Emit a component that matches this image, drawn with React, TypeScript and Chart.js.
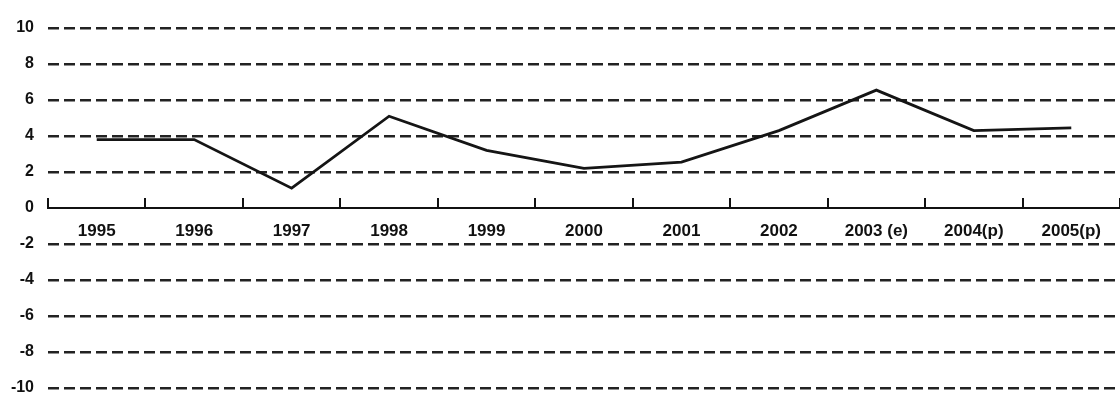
import React, { useEffect, useRef } from "react";
import { Chart, registerables } from "chart.js";

Chart.register(...registerables);

const categories = ["1995", "1996", "1997", "1998", "1999", "2000", "2001", "2002", "2003 (e)", "2004(p)", "2005(p)"];
const growth = [3.8, 3.8, 1.1, 5.1, 3.2, 2.2, 2.55, 4.3, 6.55, 4.3, 4.45];
const yMin = -10;
const yMax = 10;
const yStep = 2;

const upTicks = {
  id: "upTicks",
  afterDraw(chart: any) {
    const x = chart.scales.x;
    const y = chart.scales.y;
    const ctx = chart.ctx;
    const y0 = y.getPixelForValue(0);
    const spacing = x.getPixelForValue(1) - x.getPixelForValue(0);
    ctx.save();
    ctx.strokeStyle = "#111";
    ctx.lineWidth = 2;
    for (let i = 0; i <= categories.length; i++) {
      const px = Math.round(x.getPixelForValue(i) - spacing / 2);
      ctx.beginPath();
      ctx.moveTo(px, y0);
      ctx.lineTo(px, y0 - 10);
      ctx.stroke();
    }
    ctx.restore();
  },
};

export default function App() {
  const ref = useRef<HTMLCanvasElement>(null);
  useEffect(() => {
    document.body.style.margin = "0";
    const chart = new Chart(ref.current!, {
      type: "line",
      data: {
        labels: categories,
        datasets: [
          {
            data: growth,
            borderColor: "#151515",
            borderWidth: 2.8,
            pointRadius: 0,
            tension: 0,
            fill: false,
          },
        ],
      },
      options: {
        animation: false,
        responsive: false,
        layout: { padding: { top: 28, left: 0, right: 0, bottom: 5 } },
        plugins: { legend: { display: false }, tooltip: { enabled: false } },
        scales: {
          x: {
            type: "category",
            offset: true,
            position: { y: 0 } as any,
            grid: { display: false },
            border: { display: true, color: "#111", width: 2 },
            ticks: {
              color: "#111",
              padding: 5,
              maxRotation: 0,
              autoSkip: false,
              font: { family: "Liberation Sans, Arial", size: 17, weight: "bold" },
            },
          },
          y: {
            min: yMin,
            max: yMax,
            afterFit: (s: any) => {
              s.width = 48;
              s.paddingTop = 0;
              s.paddingBottom = 0;
            },
            grid: {
              drawTicks: false,
              lineWidth: 2.5,
              color: (c: any) => (c.tick && c.tick.value === 0 ? "rgba(0,0,0,0)" : "#222"),
            },
            border: { display: false, dash: [11, 5] },
            ticks: {
              stepSize: yStep,
              color: "#111",
              padding: 14,
              font: { family: "Liberation Sans, Arial", size: 16, weight: "bold" },
            },
          },
        },
      },
      plugins: [upTicks],
    });
    return () => chart.destroy();
  }, []);
  return (
    <div style={{ width: 1120, height: 393, background: "#fff" }}>
      <canvas ref={ref} width={1120} height={393} style={{ display: "block" }} />
    </div>
  );
}
